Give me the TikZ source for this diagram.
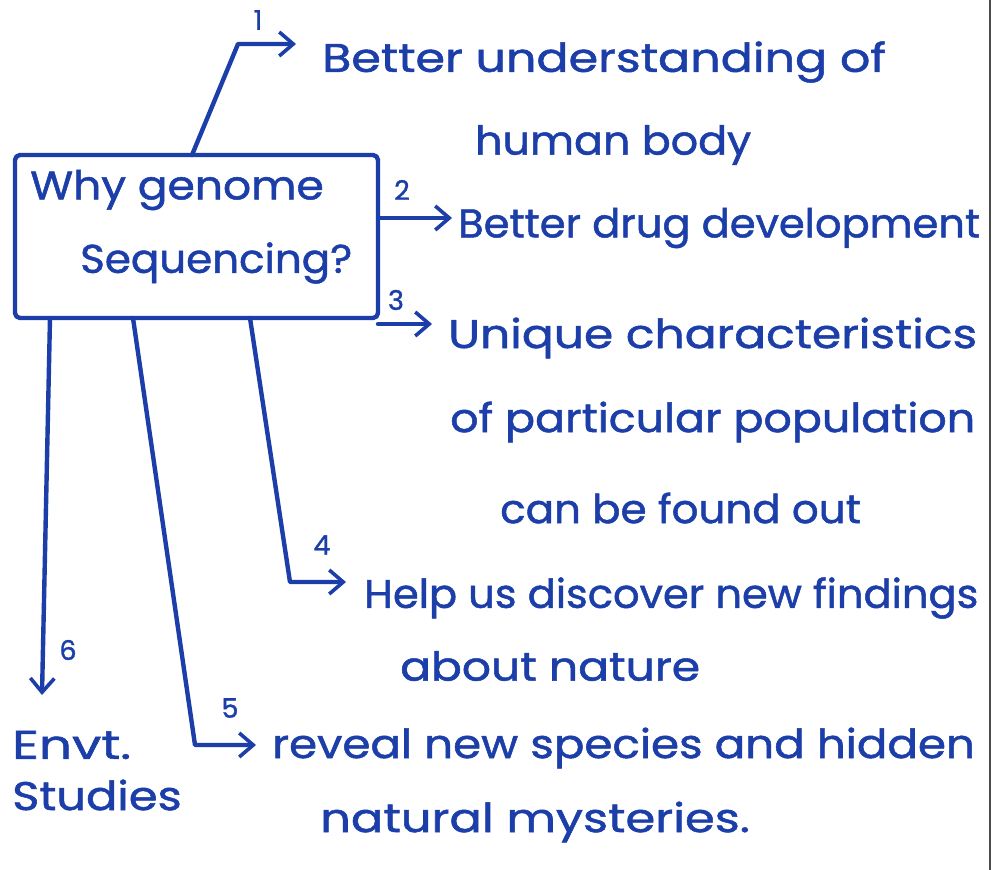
\documentclass[tikz,border=0pt]{standalone}
\usepackage{fontspec}
\setmainfont{Poppins}
\newfontfamily\handfont{Poppins}[FakeBold=1.2]
\usetikzlibrary{arrows.meta}
\definecolor{ink}{RGB}{28,62,168}
% handwritten lines are wider than the type face: stretch them horizontally
\newcommand\hw[2]{\scalebox{#1}[1]{#2}}
\tikzset{
  x=1pt, y=-1pt,
  ink line/.style={draw=ink, line width=4.4pt, line cap=round, line join=round},
  link/.style={ink line, -{Straight Barb[length=14pt,width=24pt,line width=3.6pt]}},
  hand/.style={text=ink, font=\handfont\fontsize{40}{44}\selectfont, anchor=west, inner sep=0pt},
  num/.style={text=ink, font=\handfont\fontsize{27}{30}\selectfont, inner sep=0pt},
  qbox/.style={ink line, rectangle, minimum width=363pt, minimum height=163pt,
               rounded corners=5pt, inner sep=0pt}
}
\begin{document}
\begin{tikzpicture}
  \useasboundingbox[fill=white] (0,0) rectangle (994,870);
  % page edge on the right
  \draw[black!70, line width=2pt] (990,0) -- (990,870);

  % central question
  \node[qbox] (q) at (196.5,236.5) {};
  \node[hand] (qa) at (30,190) {\hw{1.1}{Why genome}};
  \node[hand] (qb) at (80,263) {\hw{1.05}{Sequencing?}};

  % anchor points on the box
  \coordinate (q1) at (192,155);
  \coordinate (q2) at (378,218);
  \coordinate (q3) at (378,324);
  \coordinate (q4) at (250,318);
  \coordinate (q5) at (133,318);
  \coordinate (q6) at (50,318);

  % bends of the routed connectors
  \coordinate (b1) at (238,44);
  \coordinate (b4) at (290,582);
  \coordinate (b5) at (195,745);

  % reasons
  \node[hand] (r1a) at (322,62)  {\hw{1.19}{Better understanding of}};
  \node[hand] (r1b) at (475,145) {\hw{1.07}{human body}};
  \node[hand] (r2)  at (458,228) {\hw{1.04}{Better drug development}};
  \node[hand] (r3a) at (448,338) {\hw{1.18}{Unique characteristics}};
  \node[hand] (r3b) at (450,422) {\hw{1.11}{of particular population}};
  \node[hand] (r3c) at (500,508) {\hw{1.05}{can be found out}};
  \node[hand] (r4a) at (364,598) {\hw{1.04}{Help us discover new findings}};
  \node[hand] (r4b) at (400,666) {\hw{1.14}{about nature}};
  \node[hand] (r5a) at (272,748) {\hw{1.13}{reveal new species and hidden}};
  \node[hand] (r5b) at (320,822) {\hw{1.2}{natural mysteries.}};
  \node[hand] (r6a) at (12,745)  {\hw{1.3}{Envt.}};
  \node[hand] (r6b) at (12,795)  {\hw{1.16}{Studies}};

  % connectors
  \draw[link] (q1) -- (b1) -- ([xshift=-26pt]r1a.west |- b1);
  \draw[link] (q2) -- ([xshift=-6pt]r2.west |- q2);
  \draw[link] (q3) -- ([xshift=-16pt]r3a.west |- q3);
  \draw[link] (q4) -- (b4) -- ([xshift=-18pt]r4a.west |- b4);
  \draw[link] (q5) -- (b5) -- ([xshift=-16pt]r5a.west |- b5);
  \draw[link] (q6) -- (42,695);

  % numbering
  \node[num] (n1) at (258,20) {1};
  \node[num] (n2) at (402,190) {2};
  \node[num] (n3) at (396,300) {3};
  \node[num] (n4) at (322,545) {4};
  \node[num] (n5) at (230,708) {5};
  \node[num] (n6) at (68,650) {6};
\end{tikzpicture}
\end{document}
